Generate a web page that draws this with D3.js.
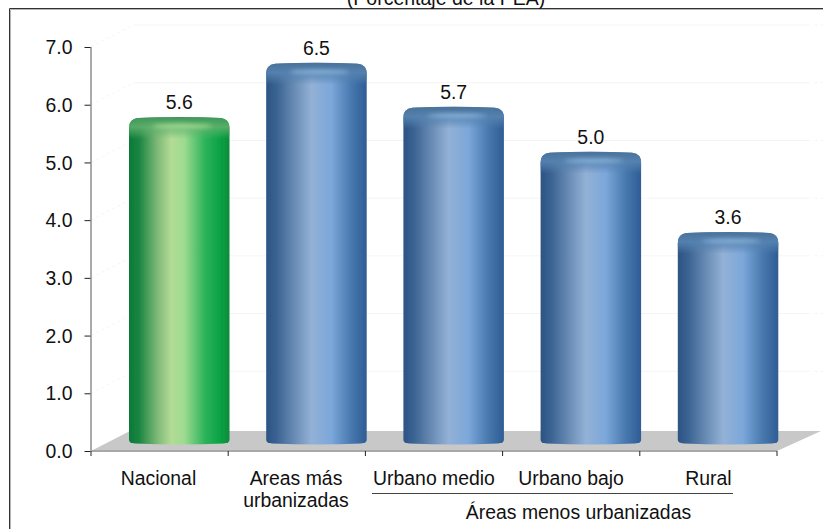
<!DOCTYPE html>
<html><head><meta charset="utf-8">
<script src="https://cdn.jsdelivr.net/npm/d3@7"></script>
<style>html,body{margin:0;background:#fff}svg{display:block}text{font-family:"Liberation Sans",Arial,sans-serif;fill:#111}</style>
</head><body><svg id="c" width="823" height="529"></svg>
<script>
const categories=["Nacional","Areas más urbanizadas","Urbano medio","Urbano bajo","Rural"];
const values=[5.56,6.5,5.74,4.96,3.57];
const labelLines=[["Nacional"],["Areas más","urbanizadas"],["Urbano medio"],["Urbano bajo"],["Rural"]];
const yTicks=[0,1,2,3,4,5,6,7];
const titleText="(Porcentaje de la PEA)";
const groupText="Áreas menos urbanizadas";
const highlight="Nacional";

const svg=d3.select("#c");
const x=d3.scaleBand().domain(categories).range([91,777]).padding(0);
const y=d3.scaleLinear().domain([0,7]).range([451,47]);
const FS=19.4;
const barW=100.5, barShiftY=-8;

const defs=svg.append("defs");
function grad(id,stops,vertical){
  const g=defs.append("linearGradient").attr("id",id);
  if(vertical) g.attr("x1",0).attr("x2",0).attr("y1",0).attr("y2",1);
  stops.forEach(s=>{const st=g.append("stop").attr("offset",s[0]).attr("stop-color",s[1]);
    if(s[2]!==undefined) st.attr("stop-opacity",s[2]);});
}
grad("blue",[[0,"#2c5384"],[.1,"#3a6291"],[.3,"#6d90b8"],[.45,"#93b1d6"],[.65,"#7ba7da"],[.85,"#4677ad"],[1,"#2f5c94"]]);
grad("green",[[0,"#0a7a3a"],[.1,"#1a8541"],[.28,"#7db877"],[.42,"#b3dc96"],[.55,"#9edb90"],[.75,"#2fb45c"],[.92,"#06a042"],[1,"#0b8a3c"]]);
grad("capBlue",[[0,"#4a7299",1],[.45,"#5582b0",.95],[1,"#5582b0",0]],true);
grad("capGreen",[[0,"#3f9458",1],[.45,"#62b26e",.85],[1,"#62b26e",0]],true);
const f=defs.append("filter").attr("id","soft").attr("x","-10%").attr("y","-10%").attr("width","120%").attr("height","120%");
f.append("feGaussianBlur").attr("stdDeviation",0.7);
const f2=defs.append("filter").attr("id","glow").attr("x","-30%").attr("y","-400%").attr("width","160%").attr("height","900%");
f2.append("feGaussianBlur").attr("stdDeviation",2);

// frame: runs off the right and bottom of the picture
const frameLine=d3.line();
svg.append("path").attr("fill","none").attr("stroke","#b5b5b5").attr("stroke-width",1).attr("d",frameLine([[10.5,529],[10.5,9.5],[823,9.5]]));
svg.append("path").attr("fill","none").attr("stroke","#333").attr("stroke-width",1).attr("d",frameLine([[9.5,529],[9.5,8.5],[823,8.5]]));
// title (the picture cuts its top off)
svg.append("text").attr("x",446).attr("y",4.5).attr("text-anchor","middle").attr("font-size",19.5).text(titleText);

// faint 3D gridlines
const x0=x.range()[0],x1=x.range()[1],y0=y(0);
const grid=svg.append("g").attr("fill","none").attr("stroke","#f3f5f3").attr("stroke-width",1);
yTicks.filter(d=>d>0).forEach(d=>{
  grid.append("path").attr("stroke-dasharray","3 3").attr("d",d3.line()([[x0,y(d)],[x0+43,y(d)-22]]));
  grid.append("path").attr("d",d3.line()([[x0+43,y(d)-22],[x1+33,y(d)-22]]));
  grid.append("path").attr("stroke-dasharray","3 3").attr("d",d3.line()([[x1+38,y(d)-22],[x1+46,y(d)-22]]));
});

// floor
svg.append("path").attr("fill","#c8c8c8").attr("d",d3.line()([[x0,y0],[x0+39,y0-20],[x1+44,y0-20],[x1,y0]])+"Z");
svg.append("path").attr("stroke","#a8a8a8").attr("stroke-width",2).attr("d",d3.line()([[x0,y0],[x1,y0]]));
// wall edge
svg.append("path").attr("stroke","#aaa").attr("stroke-width",2).attr("d",d3.line()([[x0,y(7)],[x0,y0]]));

// axes
const ga=svg.append("g").attr("transform",`translate(${x0-0.5},0)`)
  .call(d3.axisLeft(y).tickValues(yTicks).tickFormat(d3.format(".1f")).tickSize(6).tickPadding(12));
ga.select(".domain").remove();
ga.selectAll("line").attr("stroke","#222");
ga.selectAll("text").attr("font-size",FS).attr("dy","0.34em").style("fill","#111").style("font-family",'"Liberation Sans",Arial,sans-serif');
const xt=svg.append("g").attr("stroke","#222");
categories.map(c=>x(c)).concat([x1]).forEach(px=>{
  xt.append("line").attr("x1",px).attr("x2",px).attr("y1",y0).attr("y2",y0+5);
});

// cylinders
const bars=svg.append("g").selectAll("g").data(categories).join("g");
bars.each(function(c,i){
  const g=d3.select(this), v=values[i], isH=c===highlight;
  const left=x(c)+38, right=left+barW, cx=(left+right)/2;
  const top=y(v)+barShiftY-5, bot=y0+barShiftY;
  const shape=`M${left},${top+11}Q${left},${top+2} ${left+9},${top+1}Q${cx},${top-1} ${right-9},${top+1}Q${right},${top+2} ${right},${top+11}L${right},${bot-3}Q${right},${bot} ${right-6},${bot+0.5}Q${cx},${bot+2.5} ${left+6},${bot+0.5}Q${left},${bot} ${left},${bot-3}Z`;
  const inner=g.append("g").attr("filter","url(#soft)");
  inner.append("path").attr("fill",`url(#${isH?"green":"blue"})`).attr("d",shape);
  inner.append("path").attr("fill",`url(#${isH?"capGreen":"capBlue"})`)
    .attr("d",`M${left},${top+22}L${left},${top+11}Q${left},${top+2} ${left+9},${top+1}Q${cx},${top-1} ${right-9},${top+1}Q${right},${top+2} ${right},${top+11}L${right},${top+22}Z`);
  g.append("ellipse").attr("cx",cx+3).attr("cy",top+9).attr("rx",30).attr("ry",1.5)
    .attr("fill",isH?"#c4f0a8":"#a9d0f2").attr("opacity",.85).attr("filter","url(#glow)");
  g.append("text").attr("x",cx).attr("y",y(v)-21).attr("text-anchor","middle").attr("font-size",FS).text(d3.format(".1f")(v));
});

// category labels
const labelX=[158.5,296,434,571,708.5];
categories.forEach((c,i)=>{
  const t=svg.append("text").attr("text-anchor","middle").attr("font-size",FS);
  labelLines[i].forEach((s,k)=>t.append("tspan").attr("x",labelX[i]).attr("y",485+k*21.5).text(s));
});
// group bracket
svg.append("path").attr("stroke","#444").attr("stroke-width",1.2).attr("d",d3.line()([[372,493.5],[733,493.5]]));
svg.append("text").attr("x",578.5).attr("y",519).attr("text-anchor","middle").attr("font-size",FS).text(groupText);
</script></body></html>
